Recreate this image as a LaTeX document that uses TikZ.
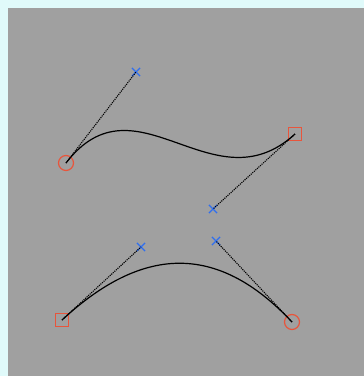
\documentclass[tikz,border=0pt]{standalone}
\usetikzlibrary{shapes.misc}
\definecolor{framecyan}{HTML}{E0FAFA}
\definecolor{panelgray}{HTML}{A0A0A0}
\definecolor{markred}{HTML}{E8553C}
\definecolor{markblue}{HTML}{2F6FF0}
\begin{document}
\begin{tikzpicture}[x=1pt,y=-1pt,
	endcircle/.style={draw=markred, circle, line width=1.2pt, minimum size=15pt, inner sep=0pt},
	endsquare/.style={draw=markred, rectangle, line width=1.2pt, minimum size=13pt, inner sep=0pt},
	ctrlmark/.style={draw=markblue, cross out, line width=1.2pt, minimum size=7pt, inner sep=0pt},
	handle/.style={densely dotted, line width=1.1pt, black},
	curveline/.style={line width=1.2pt, black}]
	\fill[color=framecyan] (0,0) rectangle (364,376);
	\fill[color=panelgray] (8,8) rectangle (364,376);
	
	% upper curve
	\node[endcircle] (a0) at (66,163) {};
	\node[ctrlmark] (a1) at (136,72) {};
	\node[ctrlmark] (a2) at (213,209) {};
	\node[endsquare] (a3) at (295,134) {};
	
	\draw[handle] (a0.center) -- (a1.center);
	\draw[handle] (a3.center) -- (a2.center);
	\draw[curveline] (a0.center) .. controls (a1.center) and (a2.center) .. (a3.center);
	
	% lower curve
	\node[endsquare] (b0) at (62,320) {};
	\node[ctrlmark] (b1) at (141,247) {};
	\node[ctrlmark] (b2) at (216,241) {};
	\node[endcircle] (b3) at (292,322) {};
	
	\draw[handle] (b0.center) -- (b1.center);
	\draw[handle] (b3.center) -- (b2.center);
	\draw[curveline] (b0.center) .. controls (b1.center) and (b2.center) .. (b3.center);
\end{tikzpicture}
\end{document}
